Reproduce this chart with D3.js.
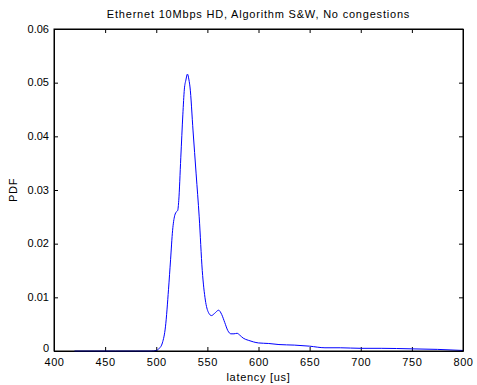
<!DOCTYPE html>
<meta charset="utf-8">
<style>
    body { margin: 0; background: #fff; }
    text { font-family: "Liberation Sans", Arial, sans-serif; font-size: 11px; fill: #000; }
    .axis path, .axis line { stroke: #000; }
</style>
<body>
<div id="chart"></div>
<script src="https://d3js.org/d3.v7.min.js"></script>
<script>
    // values
    var latency = [420, 440, 460, 480, 495, 500, 503, 506, 509, 512, 514, 516, 518, 520, 521,
        522, 524, 526, 527.5, 529, 530.5, 532, 533, 536, 539, 542, 545, 548, 551, 554, 557,
        561, 564, 567, 570, 573, 576, 579, 582, 585, 590, 595, 600, 610, 620, 635, 650, 665,
        680, 700, 720, 750, 775, 800];
    var pdf = [0, 0, 0, 0, 0, 0.0001, 0.0005, 0.0015, 0.0045, 0.0115, 0.017, 0.0225, 0.0252, 0.026, 0.0262,
        0.028, 0.036, 0.044, 0.0488, 0.0505, 0.0516, 0.0505, 0.0492, 0.041, 0.033, 0.025, 0.015, 0.0095, 0.0072, 0.0066, 0.0070,
        0.0076, 0.0068, 0.0053, 0.0038, 0.0032, 0.0032, 0.0033, 0.0029, 0.0024, 0.002, 0.0017, 0.0015, 0.0014, 0.0012, 0.0011, 0.0009, 0.0006,
        0.0006, 0.0005, 0.0005, 0.0004, 0.0003, 0.0001];
    var xTicks = [400, 450, 500, 550, 600, 650, 700, 750, 800];
    var yTicks = [0, 0.01, 0.02, 0.03, 0.04, 0.05, 0.06];

    var width = 477,
        height = 385;
    var margin = { left: 54, right: 14, top: 29, bottom: 34 };
    var w = width - margin.left - margin.right,
        h = height - margin.top - margin.bottom;

    var svg = d3.select("#chart").append("svg")
        .attr("width", width)
        .attr("height", height);

    var x = d3.scaleLinear().domain([400, 800]).range([0, w]);
    var y = d3.scaleLinear().domain([0, 0.06]).range([h, 0]);

    var g = svg.append("g")
        .attr("transform", "translate(" + margin.left + "," + margin.top + ")");

    var fmt = function(d) { return d === 0 ? "0" : d3.format(".2f")(d); };

    g.append("g").attr("class", "axis")
        .attr("transform", "translate(0," + h + ")")
        .call(d3.axisBottom(x).tickValues(xTicks).tickSizeInner(-4).tickSizeOuter(0).tickPadding(7))
        .call(function(s) { s.selectAll("text").attr("dy", "0.71em").style("letter-spacing", "0.6px"); });
    g.append("g").attr("class", "axis")
        .call(d3.axisTop(x).tickValues(xTicks).tickSizeInner(-4).tickSizeOuter(0).tickFormat(""));
    g.append("g").attr("class", "axis")
        .call(d3.axisLeft(y).tickValues(yTicks).tickSizeInner(-4).tickSizeOuter(0).tickPadding(5).tickFormat(fmt))
        .call(function(s) { s.selectAll("text").attr("dy", function(d) { return d === 0 ? "0.05em" : "0.28em"; }); });
    g.append("g").attr("class", "axis")
        .attr("transform", "translate(" + w + ",0)")
        .call(d3.axisRight(y).tickValues(yTicks).tickSizeInner(-4).tickSizeOuter(0).tickFormat(""));
    svg.selectAll(".axis text").style("font-size", "11px").style("font-family", "Liberation Sans, Arial, sans-serif");

    var line = d3.line()
        .x(function(d, i) { return x(latency[i]); })
        .y(function(d) { return y(d); })
        .curve(d3.curveMonotoneX);

    g.append("path")
        .datum(pdf)
        .attr("d", line)
        .attr("fill", "none")
        .attr("stroke", "#0000ff")
        .attr("stroke-width", 1);

    g.append("rect")
        .attr("width", w).attr("height", h)
        .attr("fill", "none").attr("stroke", "#000");

    svg.append("text")
        .attr("x", margin.left + w / 2).attr("y", 18)
        .attr("text-anchor", "middle")
        .style("letter-spacing", "0.8px")
        .text("Ethernet 10Mbps HD, Algorithm S&W, No congestions");

    svg.append("text")
        .attr("x", margin.left + w / 2).attr("y", 381)
        .attr("text-anchor", "middle")
        .style("letter-spacing", "0.7px")
        .text("latency [us]");

    svg.append("text")
        .attr("transform", "translate(17," + (margin.top + h / 2) + ") rotate(-90)")
        .attr("text-anchor", "middle")
        .style("letter-spacing", "0.7px")
        .text("PDF");
</script>
</body>
</html>
